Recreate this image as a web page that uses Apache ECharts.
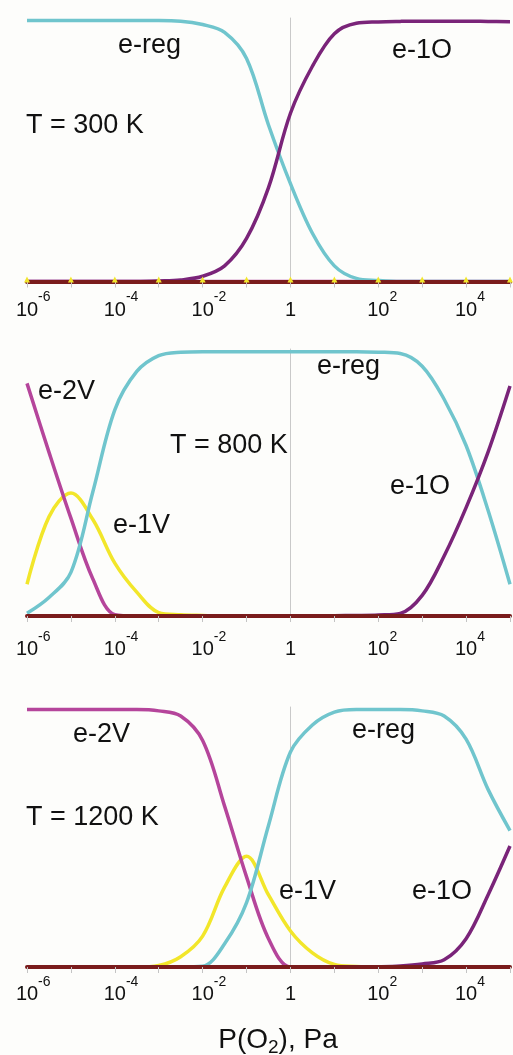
<!DOCTYPE html>
<html>
<head>
<meta charset="utf-8">
<script src="https://cdn.jsdelivr.net/npm/echarts@6/dist/echarts.min.js"></script>
<style>
    html, body { margin: 0; padding: 0; background: #fdfdfb; }
    #main { width: 513px; height: 1055px; }
</style>
</head>
<body>
<div id="main"></div>
<script>
// log10 P(O2), Pa  -- common grid for all three panels
const logP = [-6, -5.5, -5, -4.5, -4, -3.5, -3, -2.5, -2, -1.5, -1, -0.5, 0, 0.5, 1, 1.5, 2, 2.5, 3, 3.5, 4, 4.5, 5];

// T = 300 K
const eReg300 = [1, 1, 1, 1, 1, 1, 1, 0.998, 0.985, 0.955, 0.855, 0.60, 0.375, 0.185, 0.06, 0.012, 0.004, 0, 0, 0, 0, 0, 0];
const e1O300  = [0, 0, 0, 0, 0, 0, 0.002, 0.006, 0.02, 0.06, 0.165, 0.36, 0.645, 0.825, 0.95, 0.99, 0.995, 0.997, 0.998, 0.998, 0.998, 0.997, 0.996];
const e1V300  = [0, 0, 0, 0, 0, 0, 0, 0, 0, 0, 0, 0, 0, 0, 0, 0, 0, 0, 0, 0, 0, 0, 0];
const e2V300  = [0, 0, 0, 0, 0, 0, 0, 0, 0, 0, 0, 0, 0, 0, 0, 0, 0, 0, 0, 0, 0, 0, 0];

// T = 800 K
const eReg800 = [0.01, 0.07, 0.165, 0.47, 0.78, 0.925, 0.985, 0.998, 1, 1, 1, 1, 1, 1, 1, 1, 0.998, 0.993, 0.945, 0.82, 0.645, 0.40, 0.12];
const e1O800  = [0, 0, 0, 0, 0, 0, 0, 0, 0, 0, 0, 0, 0, 0, 0.001, 0.002, 0.004, 0.01, 0.078, 0.227, 0.41, 0.62, 0.87];
const e1V800  = [0.12, 0.375, 0.465, 0.365, 0.20, 0.09, 0.013, 0.005, 0.002, 0, 0, 0, 0, 0, 0, 0, 0, 0, 0, 0, 0, 0, 0];
const e2V800  = [0.88, 0.62, 0.37, 0.14, 0.005, 0, 0, 0, 0, 0, 0, 0, 0, 0, 0, 0, 0, 0, 0, 0, 0, 0, 0];

// T = 1200 K
const eReg1200 = [0, 0, 0, 0, 0, 0, 0, 0, 0.003, 0.09, 0.25, 0.55, 0.835, 0.94, 0.99, 1, 1, 1, 0.995, 0.975, 0.885, 0.69, 0.53];
const e1O1200  = [0, 0, 0, 0, 0, 0, 0, 0, 0, 0, 0, 0, 0, 0, 0, 0, 0.001, 0.004, 0.012, 0.028, 0.11, 0.28, 0.47];
const e1V1200  = [0, 0, 0, 0, 0, 0, 0.006, 0.04, 0.12, 0.31, 0.43, 0.28, 0.14, 0.055, 0.01, 0.002, 0, 0, 0, 0, 0, 0, 0];
const e2V1200  = [1, 1, 1, 1, 1, 1, 0.995, 0.975, 0.88, 0.625, 0.35, 0.11, 0, 0, 0, 0, 0, 0, 0, 0, 0, 0, 0];

// 图中文字标注
const notes = [
    ['e-reg', 118, 46], ['T = 300 K', 26, 126], ['e-1O', 392, 51],
    ['e-2V', 38, 392], ['T = 800 K', 170, 446], ['e-1V', 113, 526], ['e-reg', 317, 367], ['e-1O', 390, 487],
    ['e-2V', 73, 735], ['T = 1200 K', 26, 818], ['e-reg', 352, 731], ['e-1V', 279, 892], ['e-1O', 412, 892]
];

const FONT = '"Liberation Sans", Arial, sans-serif';
const C_REG = '#70c5cd';
const C_1O = '#7a2479';
const C_1V = '#f2e62a';
const C_2V = '#b5459b';
const C_AXIS = '#7a1c1c';

let chart = echarts.init(document.getElementById('main'));

// 每个面板的位置
const panels = [
    { top: 18, height: 263.5, margin: 9, data: [e1V300, e2V300, eReg300, e1O300] },
    { top: 349, height: 267, margin: 14, data: [e1V800, e2V800, eReg800, e1O800] },
    { top: 707, height: 260, margin: 8, data: [e1V1200, e2V1200, eReg1200, e1O1200] }
];

function tickLabel(v) {
    if (v % 2 !== 0) return '';
    if (v === 0) return '{b|1}';
    return '{h|' + v + '}{b|10}{s|' + v + '}';
}

let grids = [], xAxes = [], yAxes = [], series = [];
panels.forEach(function (p, i) {
    grids.push({ left: 27, right: 1, top: p.top, height: p.height });
    xAxes.push({
        gridIndex: i, type: 'value', min: -6, max: 5, interval: 1, z: 10,
        axisLine: { show: true, lineStyle: { color: C_AXIS, width: 4 } },
        axisTick: { show: true, length: 6, lineStyle: { color: '#c4c4c4', width: 1 } },
        splitLine: { show: false },
        axisLabel: {
            margin: p.margin,
            formatter: tickLabel,
            rich: {
                b: { fontFamily: FONT, fontSize: 20, color: '#111', lineHeight: 39 },
                s: { fontFamily: FONT, fontSize: 14, color: '#111', verticalAlign: 'top', lineHeight: 16 },
                h: { fontFamily: FONT, fontSize: 14, color: 'rgba(0,0,0,0)', lineHeight: 16 }
            }
        }
    });
    yAxes.push({
        gridIndex: i, type: 'value', min: 0, max: 1.01,
        axisLine: { show: true, onZero: true, lineStyle: { color: '#c9c9c9', width: 1 } },
        axisTick: { show: false }, axisLabel: { show: false }, splitLine: { show: false }
    });
    const names = ['e-1V', 'e-2V', 'e-reg', 'e-1O'];
    const colors = [C_1V, C_2V, C_REG, C_1O];
    p.data.forEach(function (vals, k) {
        let s = {
            name: names[k], type: 'line', xAxisIndex: i, yAxisIndex: i,
            data: logP.map(function (x, j) { return [x, vals[j]]; }),
            smooth: 0.35, showSymbol: false,
            lineStyle: { color: colors[k], width: 3.5 },
            itemStyle: { color: colors[k] },
            animation: false
        };
        // 300 K 时 e-1V 在每个十进位处有小三角标记
        if (i === 0 && k === 0) {
            s.showSymbol = true;
            s.showAllSymbol = true;
            s.symbolSize = 6;
            s.symbolOffset = [0, -2];
            s.z = 11;
            s.lineStyle.opacity = 0;
            s.symbol = function (v) { return Number.isInteger(v[0]) ? 'triangle' : 'none'; };
        }
        series.push(s);
    });
});

let graphics = notes.map(function (n) {
    return {
        type: 'text', x: n[1], y: n[2], z: 20,
        style: { text: n[0], fontFamily: FONT, fontSize: 27, fill: '#111', align: 'left', verticalAlign: 'middle' }
    };
});
graphics.push({
    type: 'text', x: 278, y: 1040, z: 20,
    style: {
        text: '{a|P(O}{c|2}{a|), Pa}', align: 'center', verticalAlign: 'middle',
        rich: {
            a: { fontFamily: FONT, fontSize: 28, fill: '#111', lineHeight: 34 },
            c: { fontFamily: FONT, fontSize: 19, fill: '#111', verticalAlign: 'bottom', lineHeight: 20 }
        }
    }
});

chart.setOption({
    backgroundColor: '#fdfdfb',
    animation: false,
    grid: grids,
    xAxis: xAxes,
    yAxis: yAxes,
    series: series,
    graphic: graphics
});
</script>
</body>
</html>
